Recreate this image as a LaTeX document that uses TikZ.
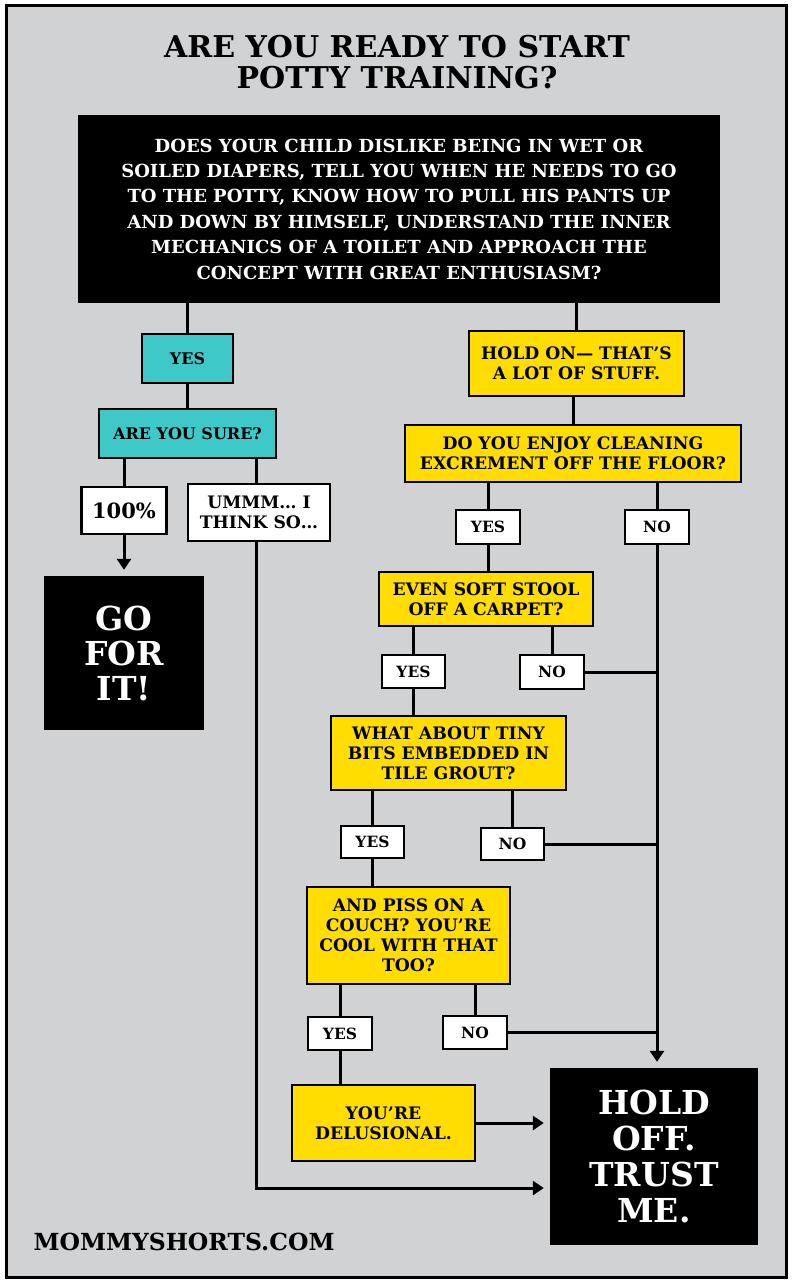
\documentclass[tikz,border=0pt]{standalone}
\usepackage{fontspec}
\setmainfont{DejaVu Serif}
\usetikzlibrary{arrows.meta}

\definecolor{bggray}{RGB}{209,210,212}
\definecolor{tealfill}{RGB}{62,200,200}
\definecolor{yellowfill}{RGB}{255,221,0}

\tikzset{
  box/.style={draw=black,line width=2.5pt,inner sep=0pt,align=center,
    font=\bfseries\fontsize{17.2}{20}\selectfont},
  tealq/.style={box,fill=tealfill,font=\bfseries\fontsize{16}{20}\selectfont},
  yellowq/.style={box,fill=yellowfill},
  answer/.style={box,fill=white},
  yesno/.style={answer,font=\bfseries\fontsize{15.5}{18}\selectfont},
  verdict/.style={fill=black,text=white,inner sep=0pt,align=center,
    font=\bfseries\fontsize{33}{36}\selectfont},
  link/.style={line width=3pt},
  arrow/.style={link,-{Triangle[width=14pt,length=11pt]},shorten >=6pt},
}

\begin{document}
\begin{tikzpicture}[x=1pt,y=-1pt]
\useasboundingbox (0,0) rectangle (792,1284);
\fill[white] (0,0) rectangle (792,1284);
\draw[fill=bggray,line width=3pt] (6,6) rectangle (786,1277);

% title
\node[align=center,font=\bfseries\fontsize{30}{31}\selectfont] (title) at (397,62)
  {ARE YOU READY TO START\\POTTY TRAINING?};

% start question
\node[verdict,minimum width=642,minimum height=188,
  font=\bfseries\fontsize{18}{25.4}\selectfont] (question) at (399,209)
  {DOES YOUR CHILD DISLIKE BEING IN WET OR\\
   SOILED DIAPERS, TELL YOU WHEN HE NEEDS TO GO\\
   TO THE POTTY, KNOW HOW TO PULL HIS PANTS UP\\
   AND DOWN BY HIMSELF, UNDERSTAND THE INNER\\
   MECHANICS OF A TOILET AND APPROACH THE\\
   CONCEPT WITH GREAT ENTHUSIASM?};

% left branch
\node[tealq,minimum width=91,minimum height=49] (yes1) at (187.5,358.5) {YES};
\node[tealq,minimum width=177,minimum height=49] (sure) at (187.5,433.5) {ARE YOU SURE?};
\node[answer,minimum width=85,minimum height=47,
  font=\bfseries\fontsize{21}{22}\selectfont] (hundred) at (124,510.5) {100\%};
\node[answer,minimum width=142,minimum height=57] (ummm) at (259,512.5)
  {UMMM\dots\ I\\THINK SO\dots};
\node[verdict,minimum width=160,minimum height=154,
  font=\bfseries\fontsize{33}{35}\selectfont] (goforit) at (124,653)
  {GO\\FOR\\IT!};

% right branch
\node[yellowq,minimum width=215,minimum height=65] (holdon) at (576.5,363.5)
  {HOLD ON---\ THAT'S\\A LOT OF STUFF.};
\node[yellowq,minimum width=336,minimum height=57] (enjoy) at (573,453.5)
  {DO YOU ENJOY CLEANING\\EXCREMENT OFF THE FLOOR?};
\node[yesno,minimum width=64,minimum height=34] (yes2) at (488,527) {YES};
\node[yesno,minimum width=64,minimum height=34] (no2) at (657,527) {NO};
\node[yellowq,minimum width=214,minimum height=54] (stool) at (486,599)
  {EVEN SOFT STOOL\\OFF A CARPET?};
\node[yesno,minimum width=63,minimum height=33] (yes3) at (413.5,671.5) {YES};
\node[yesno,minimum width=64,minimum height=34] (no3) at (552,672) {NO};
\node[yellowq,minimum width=235,minimum height=74] (grout) at (448.5,753)
  {WHAT ABOUT TINY\\BITS EMBEDDED IN\\TILE GROUT?};
\node[yesno,minimum width=63,minimum height=32] (yes4) at (372.5,842) {YES};
\node[yesno,minimum width=63,minimum height=32] (no4) at (512.5,844) {NO};
\node[yellowq,minimum width=203,minimum height=97] (couch) at (408.5,935.5)
  {AND PISS ON A\\COUCH? YOU'RE\\COOL WITH THAT\\TOO?};
\node[yesno,minimum width=64,minimum height=33] (yes5) at (340,1033.5) {YES};
\node[yesno,minimum width=64,minimum height=33] (no5) at (475,1032.5) {NO};
\node[yellowq,minimum width=183,minimum height=76] (deluded) at (383.5,1123)
  {YOU'RE\\DELUSIONAL.};
\node[verdict,minimum width=208,minimum height=177] (holdoff) at (654,1156.5)
  {HOLD\\OFF.\\TRUST\\ME.};

\node[anchor=west,font=\bfseries\fontsize{23.5}{24}\selectfont] (site) at (30,1242)
  {MOMMYSHORTS.COM};

\coordinate (late) at (holdoff.west |- 0,1188);

% connectors
\draw[link] (yes1.north) -- (yes1.north |- question.south);
\draw[link] (yes1.south) -- (sure.north);
\draw[link] (hundred.north) -- (hundred.north |- sure.south);
\draw[link] ([xshift=-3pt]ummm.north) -- ([xshift=-3pt]ummm.north |- sure.south);
\draw[arrow] (hundred.south) -- (goforit.north);
\draw[arrow] ([xshift=-3pt]ummm.south) |- (late);

\draw[link] (holdon.north) -- (holdon.north |- question.south);
\draw[link] (enjoy.north) -- (enjoy.north |- holdon.south);
\draw[link] (yes2.north) -- (yes2.north |- enjoy.south);
\draw[link] (no2.north) -- (no2.north |- enjoy.south);
\draw[link] (yes2.south) -- (yes2.south |- stool.north);
\draw[arrow] (no2.south) -- (no2.south |- holdoff.north);
\draw[link] (yes3.north) -- (yes3.north |- stool.south);
\draw[link] (no3.north) -- (no3.north |- stool.south);
\draw[link] (no3.east) -- (no3.east -| no2.south);
\draw[link] (yes3.south) -- (yes3.south |- grout.north);
\draw[link] (yes4.north) -- (yes4.north |- grout.south);
\draw[link] (no4.north) -- (no4.north |- grout.south);
\draw[link] (no4.east) -- (no4.east -| no2.south);
\draw[link] (yes4.south) -- (yes4.south |- couch.north);
\draw[link] (yes5.north) -- (yes5.north |- couch.south);
\draw[link] (no5.north) -- (no5.north |- couch.south);
\draw[link] (no5.east) -- (no5.east -| no2.south);
\draw[link] (yes5.south) -- (yes5.south |- deluded.north);
\draw[arrow] (deluded.east) -- (deluded.east -| holdoff.west);
\end{tikzpicture}
\end{document}
